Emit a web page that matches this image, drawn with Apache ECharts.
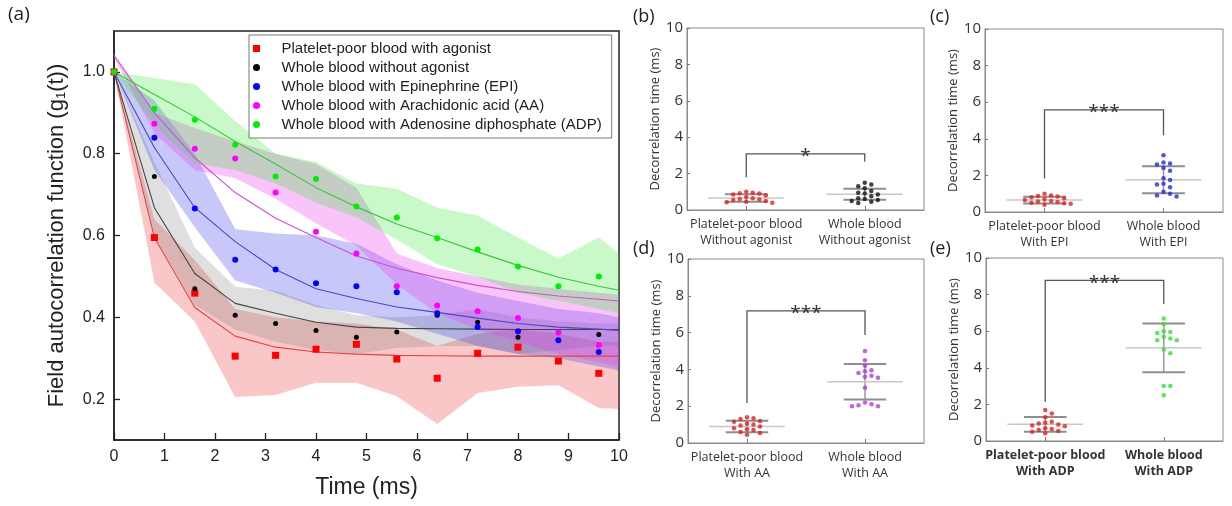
<!DOCTYPE html>
<html><head><meta charset="utf-8">
<script src="https://cdn.jsdelivr.net/npm/echarts@6/dist/echarts.min.js"></script>
<style>html,body{margin:0;padding:0;background:#fff}#c{width:1232px;height:506px}</style>
</head><body><div id="c"></div>
<script>
// ---------- Panel (a) data ----------
const tPts = [0, 0.8, 1.6, 2.4, 3.2, 4.0, 4.8, 5.6, 6.4, 7.2, 8.0, 8.8, 9.6];
const tFit = [0, 0.8, 1.6, 2.4, 3.2, 4.0, 4.8, 5.6, 6.4, 7.2, 8.0, 8.8, 9.6, 10];
const seriesNames = ['Platelet-poor blood with agonist', 'Whole blood without agonist',
  'Whole blood with Epinephrine (EPI)', 'Whole blood with Arachidonic acid (AA)',
  'Whole blood with Adenosine diphosphate (ADP)'];

const redPts   = [1.0, 0.595, 0.459, 0.305, 0.307, 0.322, 0.334, 0.298, 0.251, 0.312, 0.327, 0.293, 0.263];
const blackPts = [1.0, 0.744, 0.47, 0.405, 0.385, 0.368, 0.351, 0.364, 0.405, 0.388, 0.351, 0.363, 0.358];
const bluePts  = [1.0, 0.839, 0.666, 0.541, 0.517, 0.483, 0.476, 0.461, 0.41, 0.376, 0.366, 0.344, 0.315];
const magPts   = [1.0, 0.873, 0.812, 0.788, 0.705, 0.609, 0.556, 0.476, 0.429, 0.415, 0.398, 0.363, 0.332];
const greenPts = [1.0, 0.91, 0.883, 0.822, 0.744, 0.738, 0.671, 0.644, 0.593, 0.566, 0.524, 0.476, 0.50];

const redFit   = [1.0, 0.595, 0.424, 0.354, 0.327, 0.315, 0.31, 0.307, 0.306, 0.305, 0.305, 0.305, 0.305, 0.305];
const blackFit = [1.0, 0.668, 0.507, 0.434, 0.41, 0.388, 0.376, 0.373, 0.372, 0.371, 0.37, 0.37, 0.37, 0.37];
const blueFit  = [1.0, 0.815, 0.668, 0.585, 0.517, 0.47, 0.446, 0.425, 0.412, 0.398, 0.385, 0.376, 0.371, 0.368];
const magFit   = [1.04, 0.90, 0.79, 0.705, 0.642, 0.595, 0.55, 0.52, 0.497, 0.478, 0.463, 0.452, 0.444, 0.44];
const greenFit = [1.0, 0.945, 0.89, 0.83, 0.775, 0.717, 0.67, 0.628, 0.595, 0.56, 0.527, 0.498, 0.476, 0.466];

const redLo   = [1.0, 0.485, 0.39, 0.205, 0.21, 0.24, 0.24, 0.207, 0.139, 0.215, 0.23, 0.234, 0.178, 0.176];
const redHi   = [1.0, 0.64, 0.54, 0.42, 0.40, 0.39, 0.385, 0.37, 0.33, 0.36, 0.37, 0.36, 0.34, 0.34];
const blackLo = [1.0, 0.60, 0.43, 0.37, 0.34, 0.32, 0.31, 0.325, 0.33, 0.33, 0.31, 0.32, 0.33, 0.33];
const blackHi = [1.0, 0.78, 0.57, 0.475, 0.465, 0.43, 0.405, 0.40, 0.405, 0.42, 0.40, 0.39, 0.385, 0.385];
const blueLo  = [1.0, 0.76, 0.62, 0.49, 0.46, 0.425, 0.41, 0.39, 0.36, 0.33, 0.31, 0.30, 0.28, 0.27];
const blueHi  = [1.0, 0.93, 0.80, 0.615, 0.605, 0.60, 0.58, 0.53, 0.49, 0.46, 0.44, 0.42, 0.41, 0.40];
const magLo   = [1.035, 0.85, 0.76, 0.74, 0.69, 0.63, 0.575, 0.48, 0.41, 0.37, 0.34, 0.31, 0.29, 0.28];
const magHi   = [1.045, 0.90, 0.863, 0.83, 0.80, 0.775, 0.717, 0.556, 0.52, 0.50, 0.48, 0.47, 0.46, 0.455];
const greenLo = [1.0, 0.87, 0.776, 0.76, 0.727, 0.68, 0.644, 0.59, 0.53, 0.50, 0.46, 0.44, 0.42, 0.41];
const greenHi = [1.0, 0.985, 0.97, 0.88, 0.80, 0.78, 0.727, 0.714, 0.668, 0.649, 0.595, 0.544, 0.595, 0.556];

const yTicksA = [0.2, 0.4, 0.6, 0.8, 1.0];

// ---------- Panels (b)-(e) data ----------
const catsB = ['Platelet-poor blood\nWithout agonist', 'Whole blood\nWithout agonist'];
const catsC = ['Platelet-poor blood\nWith EPI', 'Whole blood\nWith EPI'];
const catsD = ['Platelet-poor blood\nWith AA', 'Whole blood\nWith AA'];
const catsE = ['Platelet-poor blood\nWith ADP', 'Whole blood\nWith ADP'];

const bPPB = [1.0, 0.95, 0.92, 0.9, 0.85, 0.8, 0.72, 0.65, 0.6, 0.58, 0.55, 0.5, 0.45, 0.42, 0.4];
const bWB  = [1.5, 1.4, 1.3, 1.2, 1.05, 0.95, 0.9, 0.85, 0.75, 0.65, 0.6, 0.55, 0.5, 0.45, 0.38];
const cPPB = [1.0, 0.9, 0.88, 0.85, 0.8, 0.75, 0.7, 0.65, 0.6, 0.58, 0.55, 0.5, 0.48, 0.45, 0.4];
const cWB  = [3.1, 2.7, 2.65, 2.6, 2.4, 2.25, 1.85, 1.75, 1.55, 1.5, 1.35, 1.1, 1.0, 0.9, 0.85];
const dPPB = [1.4, 1.35, 1.3, 1.2, 1.15, 1.05, 1.0, 0.95, 0.9, 0.8, 0.75, 0.7, 0.6, 0.55, 0.45];
const dWB  = [5.0, 4.5, 4.2, 3.95, 3.9, 3.8, 3.65, 3.6, 3.55, 3.0, 2.2, 2.1, 2.05, 2.0, 2.0];
const ePPB = [1.7, 1.5, 1.3, 1.05, 1.0, 0.95, 0.9, 0.85, 0.8, 0.7, 0.65, 0.6, 0.55, 0.5, 0.42];
const eWB  = [6.7, 6.4, 6.0, 5.95, 5.9, 5.7, 5.6, 5.5, 5.5, 5.0, 4.8, 3.0, 3.0, 2.5];

const bMean = [0.66, 0.87], bSD = [0.21, 0.30];
const cMean = [0.65, 1.76], cSD = [0.19, 0.74];
const dMean = [0.9, 3.33], dSD = [0.31, 0.96];
const eMean = [0.91, 5.09], eSD = [0.40, 1.33];

const bBracket = [1.8, 3.08, 2.65], bStars = '*';
const cBracket = [1.83, 5.58, 4.2], cStars = '***';
const dBracket = [2.18, 7.18, 5.87], dStars = '***';
const eBracket = [2.15, 8.78, 7.48], eStars = '***';

// ---------- build ----------
const FA = 'Liberation Sans, Arial, sans-serif';
const FB = 'Open Sans, Noto Sans, sans-serif';
const chart = echarts.init(document.getElementById('c'), null, {renderer: 'canvas'});

function bandSeries(lo, hi, color) {
  return {
    type: 'custom', xAxisIndex: 0, yAxisIndex: 0, z: 1, silent: true,
    data: tFit.map((t, i) => [t, lo[i], hi[i]]),
    renderItem: function (params, api) {
      if (params.dataIndex !== 0) return null;
      const pts = [];
      for (let i = 0; i < tFit.length; i++) pts.push(api.coord([tFit[i], hi[i]]));
      for (let i = tFit.length - 1; i >= 0; i--) pts.push(api.coord([tFit[i], lo[i]]));
      return {type: 'polygon', shape: {points: pts}, style: {fill: color}};
    }
  };
}
function fitSeries(vals, color) {
  return {type: 'line', xAxisIndex: 0, yAxisIndex: 0, z: 2, silent: true, showSymbol: false,
    data: tFit.map((t, i) => [t, vals[i]]), lineStyle: {color: color, width: 1.1}};
}
function ptSeries(name, vals, color, symbol, size) {
  return {type: 'scatter', name: name, xAxisIndex: 0, yAxisIndex: 0, z: 3,
    symbol: symbol, symbolSize: size, itemStyle: {color: color, opacity: 1},
    data: tPts.map((t, i) => [t, vals[i]])};
}

function swarm(vals, center) {
  const d = 0.055, thr = 0.26;
  const order = vals.map((v, i) => i).sort((a, b) => vals[b] - vals[a]);
  const placed = [];
  const out = new Array(vals.length);
  for (const i of order) {
    const v = vals[i];
    const cands = [0];
    for (let k = 1; k < 8; k++) { cands.push(k * d); cands.push(-k * d); }
    let off = 0;
    for (const c of cands) {
      if (!placed.some(p => Math.abs(p[1] - v) < thr && Math.abs(p[0] - c) < d * 0.95)) { off = c; break; }
    }
    placed.push([off, v]);
    out[i] = [center + off, v];
  }
  return out;
}

const grids = [
  {left: 114, top: 31, width: 505, height: 409, show: true, borderColor: '#222', borderWidth: 1.5},
  {left: 687, top: 28, width: 237, height: 182, show: true, borderColor: '#8a8a8a', borderWidth: 1},
  {left: 985, top: 29, width: 238, height: 183, show: true, borderColor: '#8a8a8a', borderWidth: 1},
  {left: 688, top: 259, width: 236, height: 184, show: true, borderColor: '#8a8a8a', borderWidth: 1},
  {left: 986, top: 258, width: 237, height: 183, show: true, borderColor: '#8a8a8a', borderWidth: 1}
];

const xAxes = [{
  gridIndex: 0, type: 'value', min: 0, max: 10, interval: 1,
  name: 'Time (ms)', nameLocation: 'middle', nameGap: 36,
  nameTextStyle: {fontFamily: FA, fontSize: 23, color: '#222'},
  axisLine: {lineStyle: {color: '#222', width: 1.5}},
  axisTick: {inside: true, length: 7, lineStyle: {color: '#222', width: 1.3}},
  axisLabel: {fontFamily: FA, fontSize: 16, color: '#222', margin: 9},
  splitLine: {show: false}
}];
const yAxes = [{
  gridIndex: 0, type: 'value', min: 0.1, max: 1.1,
  name: 'Field autocorrelation function (g{sub|1}(t))', nameLocation: 'middle', nameGap: 46,
  nameTextStyle: {fontFamily: FA, fontSize: 22, color: '#222',
    rich: {sub: {fontFamily: FA, fontSize: 13, color: '#222', padding: [10, 0, 0, 0]}}},
  axisLine: {lineStyle: {color: '#222', width: 1.5}},
  axisTick: {inside: true, length: 6, customValues: yTicksA, lineStyle: {color: '#222', width: 1.3}},
  axisLabel: {fontFamily: FA, fontSize: 16, color: '#222', margin: 9, customValues: yTicksA,
    formatter: v => v.toFixed(1)},
  splitLine: {show: false}
}];

const panels = [
  {cats: catsB, a: bPPB, b: bWB, colB: '#111111', mean: bMean, sd: bSD, br: bBracket, st: bStars, bold: false},
  {cats: catsC, a: cPPB, b: cWB, colB: '#2828d8', mean: cMean, sd: cSD, br: cBracket, st: cStars, bold: false},
  {cats: catsD, a: dPPB, b: dWB, colB: '#b43ad8', mean: dMean, sd: dSD, br: dBracket, st: dStars, bold: false},
  {cats: catsE, a: ePPB, b: eWB, colB: '#38dc38', mean: eMean, sd: eSD, br: eBracket, st: eStars, bold: true}
];

const series = [
  bandSeries(redLo, redHi, 'rgba(235,70,70,0.30)'),
  bandSeries(blackLo, blackHi, 'rgba(110,110,110,0.22)'),
  bandSeries(blueLo, blueHi, 'rgba(70,70,235,0.30)'),
  bandSeries(magLo, magHi, 'rgba(235,60,235,0.30)'),
  bandSeries(greenLo, greenHi, 'rgba(60,230,60,0.28)'),
  fitSeries(redFit, '#e04545'),
  fitSeries(blackFit, '#444444'),
  fitSeries(blueFit, '#4848c8'),
  fitSeries(magFit, '#d050d0'),
  fitSeries(greenFit, '#38c838'),
  ptSeries(seriesNames[0], redPts, '#ff0000', 'rect', 7),
  ptSeries(seriesNames[1], blackPts, '#000000', 'circle', 5),
  ptSeries(seriesNames[2], bluePts, '#0000ff', 'circle', 6),
  ptSeries(seriesNames[3], magPts, '#ff00ff', 'circle', 6),
  ptSeries(seriesNames[4], greenPts, '#00ee00', 'circle', 6)
];

panels.forEach((p, k) => {
  const gi = k + 1;
  xAxes.push({
    gridIndex: gi, type: 'value', min: 0, max: 2,
    axisLine: {lineStyle: {color: '#8a8a8a', width: 1}},
    axisTick: {inside: true, length: 4, customValues: [0.5, 1.5], lineStyle: {color: '#777'}},
    axisLabel: {customValues: [0.5, 1.5], formatter: v => (v < 1 ? p.cats[0] : p.cats[1]),
      fontFamily: FB, fontSize: 12.5, lineHeight: 16, color: '#333', margin: 6,
      fontWeight: p.bold ? 'bold' : 'normal'},
    splitLine: {show: false}
  });
  yAxes.push({
    gridIndex: gi, type: 'value', min: 0, max: 10, interval: 2,
    name: 'Decorrelation time (ms)', nameLocation: 'middle', nameGap: 21,
    nameTextStyle: {fontFamily: FB, fontSize: 13, color: '#333'},
    axisLine: {lineStyle: {color: '#8a8a8a', width: 1}},
    axisTick: {inside: true, length: 3, lineStyle: {color: '#777'}},
    axisLabel: {fontFamily: FB, fontSize: 15, color: '#333', margin: 4},
    splitLine: {show: false}
  });
  // mean and SD lines
  series.push({
    type: 'custom', xAxisIndex: gi, yAxisIndex: gi, z: 2, silent: true,
    data: [[0.5, p.mean[0], p.sd[0]], [1.5, p.mean[1], p.sd[1]]],
    renderItem: function (params, api) {
      const x = api.value(0), m = api.value(1), s = api.value(2);
      const L = (a, b, c, d, col, w) => {
        const p1 = api.coord([a, b]), p2 = api.coord([c, d]);
        return {type: 'line', shape: {x1: p1[0], y1: p1[1], x2: p2[0], y2: p2[1]}, style: {stroke: col, lineWidth: w}};
      };
      return {type: 'group', children: [
        L(x, m - s, x, m + s, '#9a9a9a', 1.5),
        L(x - 0.32, m, x + 0.32, m, '#c8c8c8', 1.5),
        L(x - 0.18, m + s, x + 0.18, m + s, '#8e8e8e', 2),
        L(x - 0.18, m - s, x + 0.18, m - s, '#8e8e8e', 2)
      ]};
    }
  });
  // significance bracket
  series.push({
    type: 'custom', xAxisIndex: gi, yAxisIndex: gi, z: 2, silent: true,
    data: [[1.0, p.br[1]]],
    renderItem: function (params, api) {
      const a = api.coord([0.5, p.br[0]]), b = api.coord([0.5, p.br[1]]),
            c = api.coord([1.5, p.br[1]]), d = api.coord([1.5, p.br[2]]), mid = api.coord([1.0, p.br[1]]);
      return {type: 'group', children: [
        {type: 'polyline', shape: {points: [a, b, c, d]}, style: {stroke: '#555', lineWidth: 1.3, fill: null}},
        {type: 'text', x: mid[0], y: mid[1] + 3, style: {text: p.st, fontFamily: FB, fontSize: 19,
          fill: '#333', align: 'center', verticalAlign: 'middle'}}
      ]};
    }
  });
  series.push({type: 'scatter', xAxisIndex: gi, yAxisIndex: gi, z: 3, symbolSize: 4.5,
    itemStyle: {color: '#e02020'}, data: swarm(p.a, 0.5)});
  series.push({type: 'scatter', xAxisIndex: gi, yAxisIndex: gi, z: 3, symbolSize: 4.5,
    itemStyle: {color: p.colB}, data: swarm(p.b, 1.5)});
});

const labelStyle = (t, x, y, fs) => ({type: 'text', left: x, top: y,
  style: {text: t, fontFamily: FB, fontSize: fs, fill: '#222'}});

chart.setOption({
  animation: false,
  backgroundColor: '#fff',
  grid: grids,
  xAxis: xAxes,
  yAxis: yAxes,
  legend: {
    data: seriesNames.map((n, i) => ({name: n, icon: i === 0 ? 'path://M0,0L10,0L10,10L0,10Z' : 'circle'})),
    orient: 'vertical', left: 249, top: 35, itemWidth: 40, itemHeight: 7, itemGap: 4,
    symbolKeepAspect: true,
    padding: [6, 10, 6, 4], borderColor: '#777', borderWidth: 1, backgroundColor: '#fff',
    textStyle: {fontFamily: FA, fontSize: 15, color: '#222', lineHeight: 15},
    selectedMode: false
  },
  graphic: [
    labelStyle('(a)', 8, 5, 19),
    labelStyle('(b)', 633, 8, 18),
    labelStyle('(c)', 930, 8, 18),
    labelStyle('(d)', 633, 240, 18),
    labelStyle('(e)', 930, 240, 18)
  ],
  series: series
});
</script>
</body></html>
